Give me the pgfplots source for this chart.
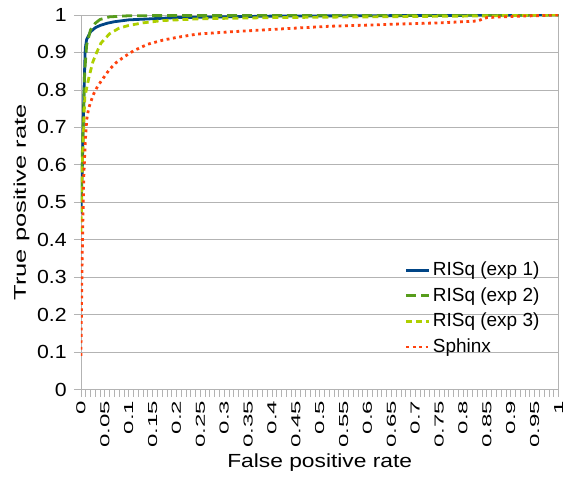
\documentclass[border=0pt]{standalone}
\usepackage{fontspec}
\setmainfont{Liberation Sans}
\usepackage{pgfplots}
\pgfplotsset{compat=1.18}
\definecolor{lblue}{HTML}{004586}
\definecolor{lgreen}{HTML}{579D1C}
\definecolor{lyellow}{HTML}{AECF00}
\definecolor{lorange}{HTML}{FF420E}
\definecolor{gridgray}{HTML}{B3B3B3}
\begin{document}
\fontsize{19}{22}\selectfont
\begin{tikzpicture}
\begin{axis}[
  name=ax,
  scale only axis,
  width=478pt, height=375pt,
  xmin=0, xmax=1, ymin=0, ymax=1,
  xtick={0,0.05,...,1.001},
  xticklabels={0,0.05,0.1,0.15,0.2,0.25,0.3,0.35,0.4,0.45,0.5,0.55,0.6,0.65,0.7,0.75,0.8,0.85,0.9,0.95,1},
  ytick={0,0.1,...,1.001},
  yticklabels={0,0.1,0.2,0.3,0.4,0.5,0.6,0.7,0.8,0.9,1},
  minor x tick num=4,
  x tick label style={rotate=90, anchor=east, xscale=1.85, inner sep=2pt,
    font=\fontsize{13}{15}\selectfont},
  y tick label style={xscale=1.12, font=\fontsize{19}{22}\selectfont},
  /pgf/number format/assume math mode=true,
  tick align=outside,
  major tick length=7pt, minor tick length=7pt,
  tick style={gridgray, line width=0.8pt},
  xtick pos=bottom, ytick pos=left,
  ymajorgrids,
  grid style={gridgray, line width=0.8pt},
  axis line style={gridgray, line width=0.8pt},
  xlabel={False positive rate},
  ylabel={True positive rate},
  xlabel style={font=\fontsize{19}{22}\selectfont, xscale=1.2, yshift=4pt},
  ylabel style={font=\fontsize{17}{20}\selectfont, xscale=1.5, yshift=-6pt},
  legend cell align=left,
  legend style={at={(rel axis cs:0.672,0.352)}, anchor=north west, draw=none, fill=none,
    font=\fontsize{19}{22}\selectfont, row sep=5pt},
  legend image code/.code={\draw[#1] (0pt,0pt) -- (23pt,0pt);},
]
\addplot[lblue, line width=2.8pt, line join=round] coordinates {
  (0,0.47)(0.003,0.6)(0.006,0.78)(0.009,0.91)(0.012,0.935)(0.02,0.955)
  (0.03,0.966)(0.04,0.972)(0.055,0.978)(0.07,0.982)(0.1,0.987)(0.15,0.990)
  (0.2,0.993)(0.3,0.995)(0.4,0.997)(0.6,0.998)(0.8,0.999)(1,1)
};
\addlegendentry{RISq (exp 1)}
\addplot[lgreen, line width=2.8pt, dash pattern=on 10pt off 5pt] coordinates {
  (0,0.5)(0.004,0.68)(0.008,0.85)(0.012,0.92)(0.02,0.96)(0.03,0.978)
  (0.04,0.988)(0.06,0.995)(0.1,0.998)(0.3,0.999)(1,1)
};
\addlegendentry{RISq (exp 2)}
\addplot[lyellow, line width=2.8pt, dash pattern=on 6pt off 4pt] coordinates {
  (0,0.42)(0.003,0.6)(0.008,0.78)(0.017,0.835)(0.025,0.875)(0.033,0.9)
  (0.042,0.925)(0.06,0.95)(0.08,0.965)(0.1,0.972)(0.13,0.979)(0.17,0.985)
  (0.25,0.99)(0.4,0.993)(0.6,0.995)(0.8,0.997)(1,1)
};
\addlegendentry{RISq (exp 3)}
\addplot[lorange, line width=2.8pt, dash pattern=on 2.8pt off 3.6pt] coordinates {
  (0,0.09)(0.001,0.2)(0.002,0.3)(0.004,0.45)(0.006,0.57)(0.009,0.66)
  (0.012,0.72)(0.016,0.75)(0.021,0.77)(0.027,0.79)(0.035,0.81)(0.046,0.83)
  (0.06,0.855)(0.073,0.872)(0.09,0.888)(0.111,0.905)(0.14,0.922)(0.172,0.933)
  (0.2,0.940)(0.243,0.949)(0.312,0.955)(0.38,0.960)(0.45,0.965)(0.522,0.970)
  (0.6,0.973)(0.67,0.976)(0.75,0.979)(0.8,0.982)(0.83,0.984)(0.85,0.993)
  (0.9,0.996)(0.95,0.998)(1,1)
};
\addlegendentry{Sphinx}
\end{axis}
\path (ax.south west) ++(-81pt,-82pt);
\path (ax.north east) ++(6pt,15pt);
\end{tikzpicture}
\end{document}
